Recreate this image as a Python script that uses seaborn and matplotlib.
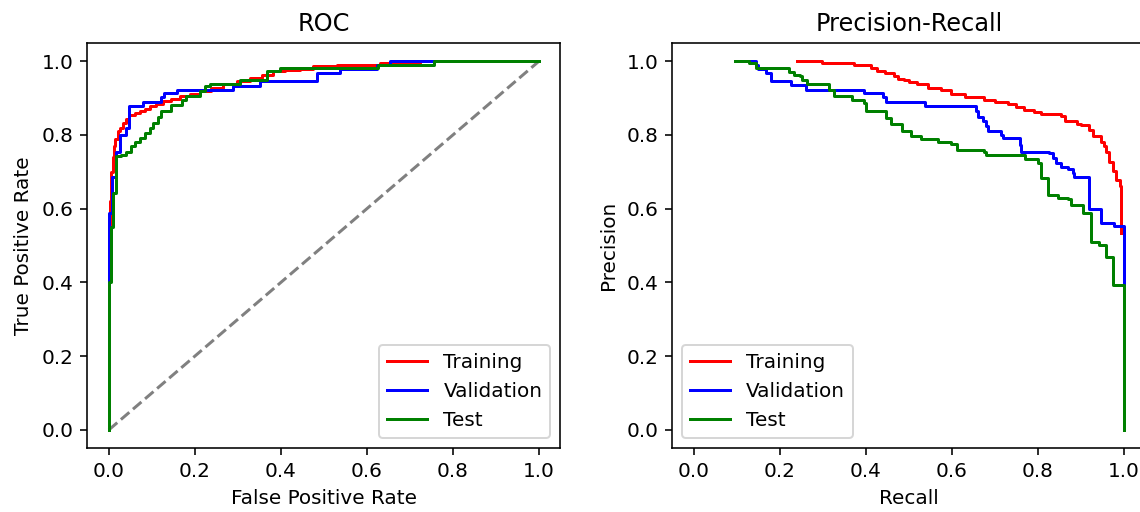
import matplotlib
matplotlib.use("Agg")
from matplotlib import pyplot as plt
import seaborn as sns

# ROC curves (upper-left corner of each step)
train_fpr = [0.0, 0.0, 0.002, 0.004, 0.006, 0.009, 0.012, 0.015, 0.021, 0.027, 0.033, 0.040,
             0.048, 0.060, 0.072, 0.083, 0.095, 0.110, 0.126, 0.145, 0.165, 0.188, 0.211,
             0.238, 0.266, 0.297, 0.328, 0.355, 0.382, 0.410, 0.445, 0.475, 0.53, 0.63,
             0.724, 1.0]
train_tpr = [0.0, 0.55, 0.62, 0.67, 0.70, 0.74, 0.77, 0.79, 0.81, 0.82, 0.832, 0.843,
             0.855, 0.860, 0.864, 0.871, 0.878, 0.885, 0.891, 0.898, 0.905, 0.911, 0.918,
             0.927, 0.937, 0.946, 0.955, 0.964, 0.973, 0.977, 0.98, 0.986, 0.991, 0.995,
             1.0, 1.0]

val_fpr = [0.0, 0.0, 0.007, 0.016, 0.027, 0.039, 0.048, 0.079, 0.122, 0.128, 0.159, 0.289,
           0.351, 0.485, 0.538, 0.623, 0.654, 1.0]
val_tpr = [0.0, 0.588, 0.687, 0.755, 0.80, 0.819, 0.879, 0.889, 0.903, 0.914, 0.923, 0.934,
           0.946, 0.968, 0.98, 0.991, 1.0, 1.0]

test_fpr = [0.0, 0.0, 0.005, 0.010, 0.017, 0.029, 0.041, 0.052, 0.060, 0.072, 0.083, 0.095,
            0.103, 0.114, 0.122, 0.145, 0.169, 0.180, 0.211, 0.223, 0.235, 0.305, 0.367,
            0.398, 0.627, 0.755, 1.0]
test_tpr = [0.0, 0.40, 0.55, 0.642, 0.742, 0.746, 0.755, 0.769, 0.782, 0.792, 0.805, 0.819,
            0.832, 0.850, 0.864, 0.882, 0.896, 0.907, 0.918, 0.932, 0.939, 0.950, 0.973,
            0.982, 0.991, 1.0, 1.0]

chance = [0.0, 1.0]

# Precision-recall curves
train_rec = [0.241, 0.299, 0.373, 0.411, 0.425, 0.445, 0.466, 0.474, 0.489, 0.501, 0.52, 0.544,
             0.575, 0.598, 0.63, 0.675, 0.70, 0.73, 0.75, 0.768, 0.79, 0.807, 0.854, 0.862,
             0.89, 0.90, 0.92, 0.928, 0.947, 0.955, 0.959, 0.966, 0.974, 0.982, 0.99, 0.994]
train_prec = [1.0, 0.994, 0.991, 0.982, 0.973, 0.968, 0.959, 0.953, 0.948, 0.944, 0.937, 0.928,
              0.921, 0.912, 0.903, 0.896, 0.89, 0.885, 0.875, 0.869, 0.862, 0.858, 0.852, 0.837,
              0.83, 0.828, 0.814, 0.796, 0.782, 0.77, 0.755, 0.728, 0.701, 0.678, 0.662, 0.533]

val_rec = [0.097, 0.144, 0.149, 0.167, 0.179, 0.227, 0.262, 0.396, 0.439, 0.446, 0.537, 0.656,
           0.661, 0.672, 0.679, 0.683, 0.714, 0.718, 0.759, 0.762, 0.827, 0.835, 0.842, 0.854,
           0.870, 0.881, 0.885, 0.920, 0.946, 0.978, 1.0]
val_prec = [1.0, 0.991, 0.979, 0.968, 0.946, 0.935, 0.923, 0.914, 0.903, 0.889, 0.879, 0.864,
            0.850, 0.837, 0.823, 0.810, 0.801, 0.792, 0.773, 0.755, 0.751, 0.737, 0.725, 0.714,
            0.707, 0.698, 0.687, 0.598, 0.562, 0.553, 0.397]

test_rec = [0.097, 0.128, 0.144, 0.221, 0.233, 0.248, 0.252, 0.264, 0.314, 0.326, 0.368, 0.396,
            0.401, 0.446, 0.458, 0.485, 0.505, 0.528, 0.567, 0.598, 0.613, 0.675, 0.679, 0.769,
            0.800, 0.808, 0.823, 0.846, 0.870, 0.877, 0.904, 0.924, 0.943, 0.959, 0.974, 1.0]
test_prec = [1.0, 0.994, 0.982, 0.971, 0.964, 0.959, 0.948, 0.938, 0.923, 0.907, 0.894, 0.887,
             0.864, 0.846, 0.831, 0.810, 0.798, 0.789, 0.780, 0.776, 0.760, 0.755, 0.746, 0.734,
             0.724, 0.683, 0.637, 0.630, 0.626, 0.610, 0.588, 0.510, 0.501, 0.470, 0.393, 0.0]

names = ["Training", "Validation", "Test"]
colors = ["red", "blue", "green"]

roc = [(train_fpr, train_tpr), (val_fpr, val_tpr), (test_fpr, test_tpr)]
pr = [(train_rec, train_prec), (val_rec, val_prec), (test_rec, test_prec)]

DPI = 144
fig = plt.figure(figsize=(1140 / DPI, 512 / DPI), dpi=DPI)
ax1 = fig.add_axes([0.0766, 0.1244, 0.415, 0.792])
ax2 = fig.add_axes([0.5897, 0.1244, 0.415, 0.792])

ax1.plot(chance, chance, color="gray", linestyle="--")
for (x, y), name, c in zip(roc, names, colors):
    sns.lineplot(x=x, y=y, ax=ax1, color=c, label=name, sort=False, estimator=None,
                 drawstyle="steps-post", linewidth=1.5)
ax1.set_title("ROC")
ax1.set_xlabel("False Positive Rate")
ax1.set_ylabel("True Positive Rate")
ax1.legend(loc="lower right")

for (x, y), name, c in zip(pr, names, colors):
    sns.lineplot(x=x, y=y, ax=ax2, color=c, label=name, sort=False, estimator=None,
                 drawstyle="steps-post", linewidth=1.5)
ax2.set_title("Precision-Recall")
ax2.set_xlabel("Recall")
ax2.set_ylabel("Precision")
ax2.legend(loc="lower left")

for ax in (ax1, ax2):
    ax.set_xlim(-0.05, 1.05)
    ax.set_ylim(-0.05, 1.05)

fig.savefig("out.png", dpi=DPI)
